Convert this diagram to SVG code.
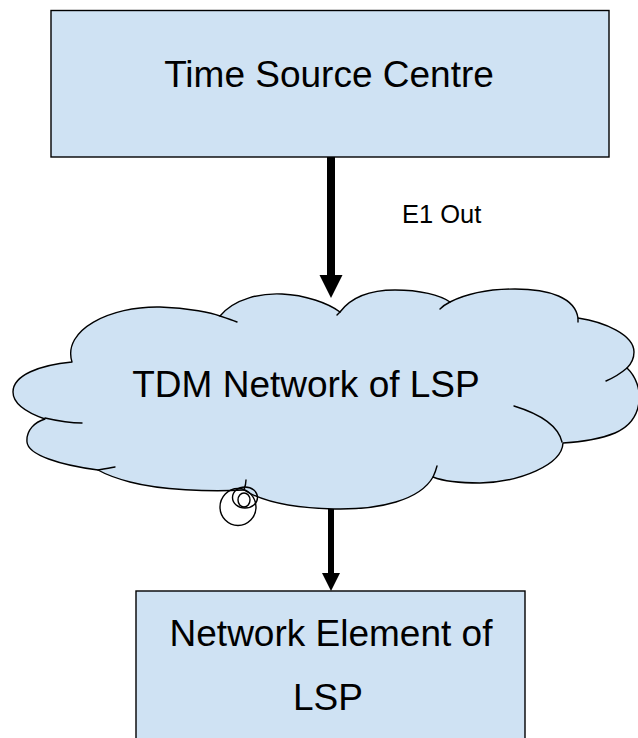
<svg xmlns="http://www.w3.org/2000/svg" width="638" height="738" viewBox="0 0 638 738">
<style>
.box{fill:#cfe2f3;stroke:#000;stroke-width:1.4}
.cloud{fill:#cfe2f3;stroke:#000;stroke-width:1.4;stroke-linejoin:round}
.line{fill:none;stroke:#000;stroke-width:1.4;stroke-linecap:round}
.lbl{font-family:"Liberation Sans",Arial,sans-serif;fill:#000}
</style>
<rect width="638" height="738" fill="#fff"/>
<g id="time-source-centre">
<rect class="box" x="51" y="10.5" width="558" height="146.5"/>
<text class="lbl" x="329" y="87" font-size="37" text-anchor="middle">Time Source Centre</text>
</g>
<g id="tdm-network">
<path class="cloud" d="M72,362 C62,330 110,306 160,307 C190,308 212,313 220,316 C235,298 262,293 282,294 C305,295 328,303 340,312 C352,296 372,290 395,290 C420,290 440,295 450,302 C470,292 490,289 515,289 C550,289 575,298 578,318 C605,322 634,335 634,352 C634,358 631,364 627,368 C645,385 645,420 615,433 C598,440 580,442 563,443 C562,465 520,482 480,483 C460,483 443,481 433,477 C420,500 380,510 334,509 C290,508 260,500 244,490 C210,492 160,490 130,482 C115,478 105,474 98,470 C60,465 28,455 27,442 C26,430 35,422 45,419 C25,412 13,403 13,392 C13,375 40,365 72,362 Z"/>
<path class="line" d="M45,418 C58,421 70,423 82,423"/>
<path class="line" d="M98,470 C104,469 110,468 115,467"/>
<path class="line" d="M220,316 C226,318 232,320 237,322"/>
<path class="line" d="M340,312 C339,313 338,314 337,315"/>
<path class="line" d="M450,302 C446,304 443,306 440,309"/>
<path class="line" d="M578,318 L578,322"/>
<path class="line" d="M627,368 C620,374 613,378 606,381"/>
<path class="line" d="M514,406 C540,414 558,425 562,442"/>
<path class="line" d="M433,477 C435,473 436,470 437,466"/>
<path class="line" d="M244,490 C245,487 246,483 246,480"/>
<ellipse class="line" cx="238" cy="507" rx="18" ry="18.5"/>
<ellipse class="line" cx="245" cy="497.5" rx="12.5" ry="10.5"/>
<ellipse class="line" cx="244" cy="500" rx="6" ry="7"/>
<text class="lbl" x="306" y="397" font-size="37" text-anchor="middle">TDM Network of LSP</text>
</g>
<g id="network-element">
<rect class="box" x="136" y="591" width="389" height="170"/>
<text class="lbl" x="331" y="646" font-size="37" text-anchor="middle">Network Element of</text>
<text class="lbl" x="328" y="710" font-size="37" text-anchor="middle">LSP</text>
</g>
<g id="connectors">
<rect x="327" y="157" width="8" height="120" fill="#000"/>
<polygon points="319.5,275 342.5,275 331,298" fill="#000"/>
<text class="lbl" x="402" y="223" font-size="25.5">E1 Out</text>
<rect x="328" y="509" width="6" height="66" fill="#000"/>
<polygon points="322,573 340,573 331,591" fill="#000"/>
</g>
</svg>
